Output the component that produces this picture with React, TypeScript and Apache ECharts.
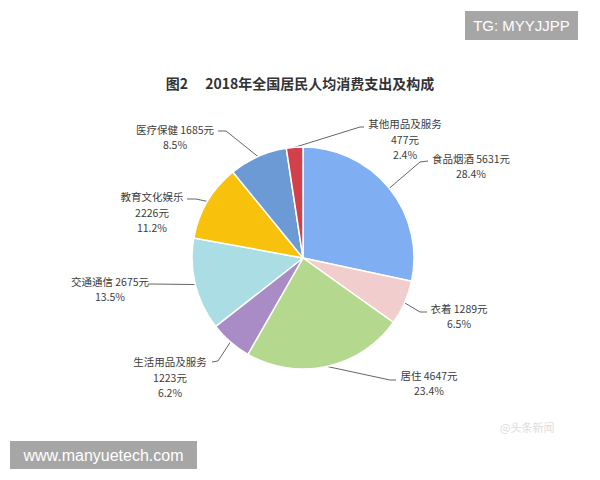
import React, { useEffect, useRef } from "react";
import * as echarts from "echarts";

const titleText = "图2\u3000 2018年全国居民人均消费支出及构成";
const names = ["食品烟酒", "衣着", "居住", "生活用品及服务", "交通通信", "教育文化娱乐", "医疗保健", "其他用品及服务"];
const values = [5631, 1289, 4647, 1223, 2675, 2226, 1685, 477];
const percents = ["28.4", "6.5", "23.4", "6.2", "13.5", "11.2", "8.5", "2.4"];
const threeLine = [false, false, false, true, false, true, false, true];
const colors = ["#7FAEF3", "#F2CDCD", "#B4D88D", "#A98CC5", "#AADEE4", "#F7C10C", "#6C9AD4", "#D2404C"];

// label block centres and leader-line bend/end points (label layout, not data marks)
const labelPos = [[471, 166], [459, 316], [429, 383], [170, 377], [110, 289], [152, 212], [175, 137], [405, 139]];
const lineTail = [
  [[420, 162], [428, 161]],
  [[420, 312], [427, 312]],
  [[390, 380], [396, 380]],
  [[218, 361], [212, 362]],
  [[150, 284], [148, 284]],
  [[196, 199], [187, 199]],
  [[226, 131], [218, 131]],
  [[360, 127], [364, 127]],
];

export default function App() {
  const ref = useRef<HTMLDivElement>(null);
  useEffect(() => {
    if (!ref.current) return;
    const chart = echarts.init(ref.current, undefined, { renderer: "svg" });
    chart.setOption({
      animation: false,
      backgroundColor: "#ffffff",
      title: {
        text: titleText,
        left: "center",
        top: 71,
        textStyle: { fontFamily: "Noto Sans CJK SC", fontSize: 14, fontWeight: "bold", color: "#333333" },
      },
      graphic: [
        { type: "rect", shape: { x: 465, y: 11, width: 113, height: 29 }, style: { fill: "#A6A6A6" } },
        { type: "text", x: 521.5, y: 25.5, style: { text: "TG: MYYJJPP", fill: "#ffffff", font: "15px 'Liberation Sans', Arial, sans-serif", align: "center", verticalAlign: "middle" } },
        { type: "rect", shape: { x: 10, y: 441, width: 187, height: 28 }, style: { fill: "#A6A6A6" } },
        { type: "text", x: 103.5, y: 455, style: { text: "www.manyuetech.com", fill: "#ffffff", font: "16px 'Liberation Sans', Arial, sans-serif", align: "center", verticalAlign: "middle" } },
        { type: "text", x: 500, y: 427, style: { text: "@头条新闻", fill: "#dddddd", font: "11px 'Noto Sans CJK SC'", align: "left", verticalAlign: "middle" } },
      ],
      series: [
        {
          type: "pie",
          center: [303, 258],
          radius: 111,
          startAngle: 90,
          clockwise: true,
          avoidLabelOverlap: false,
          itemStyle: { borderColor: "#ffffff", borderWidth: 1.5 },
          label: {
            show: true,
            position: "outside",
            fontFamily: "Noto Sans CJK SC",
            fontSize: 10.5,
            lineHeight: 15.5,
            color: "#3c3c3c",
            formatter: (p: any) => {
              const i = p.dataIndex;
              return threeLine[i]
                ? `${names[i]}\n${values[i]}元\n${percents[i]}%`
                : `${names[i]} ${values[i]}元\n${percents[i]}%`;
            },
          },
          labelLine: { show: true, length: 15, length2: 10, lineStyle: { color: "#666666", width: 1 } },
          labelLayout: (params: any) => {
            const i = params.dataIndex;
            const p0 = params.labelLinePoints ? params.labelLinePoints[0] : lineTail[i][0];
            return {
              x: labelPos[i][0],
              y: labelPos[i][1],
              align: "center",
              verticalAlign: "middle",
              labelLinePoints: [p0, lineTail[i][0], lineTail[i][1]],
            };
          },
          data: names.map((n, i) => ({ name: n, value: values[i], itemStyle: { color: colors[i] } })),
        },
      ],
    });
    return () => chart.dispose();
  }, []);
  return <div ref={ref} style={{ width: 600, height: 480, position: "fixed", left: 0, top: 0 }} />;
}
